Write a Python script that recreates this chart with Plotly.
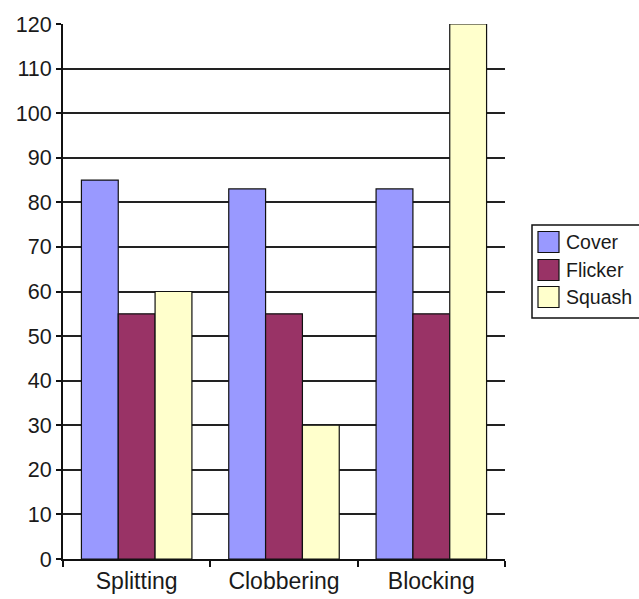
import plotly.graph_objects as go

categories = ["Splitting", "Clobbering", "Blocking"]
cover = [85, 83, 83]
flicker = [55, 55, 55]
squash = [60, 30, 120]

series_names = ["Cover", "Flicker", "Squash"]
series_values = [cover, flicker, squash]
series_colors = ["#9999FF", "#993366", "#FFFFCC"]

W, H = 639, 599
ML, MR, MT, MB = 63, 134, 24, 40
plot_w = W - ML - MR
plot_h = H - MT - MB

fig = go.Figure()
for name, vals, col in zip(series_names, series_values, series_colors):
    fig.add_trace(go.Bar(
        x=categories, y=vals, name=name,
        marker=dict(color=col, line=dict(color="#111111", width=1.2)),
        showlegend=False,
    ))

font_family = "Liberation Sans, Arial, sans-serif"

fig.update_layout(
    width=W, height=H,
    margin=dict(l=ML, r=MR, t=MT, b=MB),
    paper_bgcolor="white", plot_bgcolor="white",
    barmode="group", bargap=0.25, bargroupgap=0,
    font=dict(family=font_family, size=20, color="#1a1a1a"),
    xaxis=dict(
        showline=True, linecolor="#111111", linewidth=2,
        ticks="outside", ticklen=6, tickwidth=1.5, tickcolor="#111111",
        tickson="boundaries", showgrid=False, automargin=False,
        tickfont=dict(size=23),
    ),
    yaxis=dict(
        range=[0, 120], dtick=10, tick0=0,
        showline=True, linecolor="#111111", linewidth=2,
        ticks="outside", ticklen=5, tickwidth=1.5, tickcolor="#111111",
        showgrid=True, gridcolor="#222222", gridwidth=2, automargin=False,
        zeroline=False, tickfont=dict(size=21.5),
    ),
)

# Legend drawn as a boxed key to the right of the plot area
def px_x(px):
    return (px - ML) / plot_w

def px_y(py):
    return (H - MB - py) / plot_h

fig.add_shape(type="rect", xref="paper", yref="paper",
              x0=px_x(532), x1=px_x(648), y0=px_y(318), y1=px_y(225),
              line=dict(color="#111111", width=1.5), fillcolor="white")

row_centers = [242, 270, 297]
for name, col, cy in zip(series_names, series_colors, row_centers):
    fig.add_shape(type="rect", xref="paper", yref="paper",
                  x0=px_x(538), x1=px_x(559), y0=px_y(cy + 10.5), y1=px_y(cy - 10.5),
                  line=dict(color="#111111", width=1.2), fillcolor=col)
    fig.add_annotation(xref="paper", yref="paper", x=px_x(564), y=px_y(cy),
                       text=name, showarrow=False, xanchor="left", yanchor="middle",
                       font=dict(size=19.5, family=font_family, color="#1a1a1a"))

fig.write_html("out.html")
